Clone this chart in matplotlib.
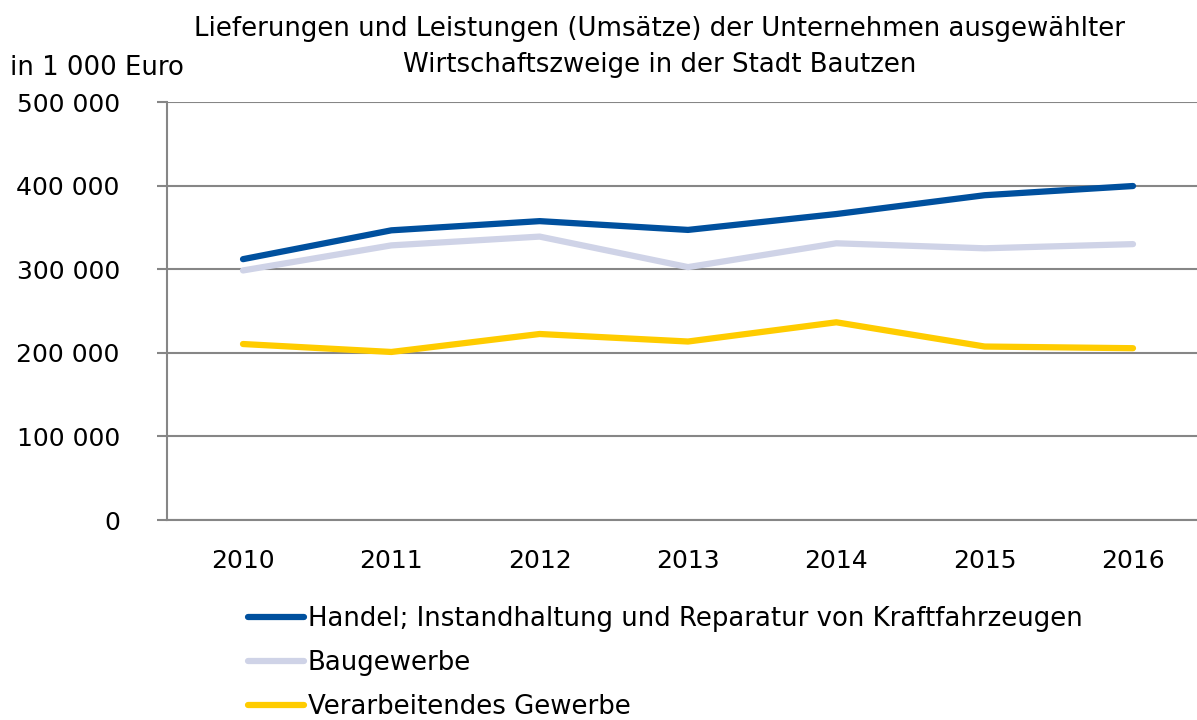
import matplotlib
matplotlib.use('Agg')
import matplotlib.pyplot as plt
from matplotlib.ticker import FuncFormatter

years = ['2010', '2011', '2012', '2013', '2014', '2015', '2016']
handel = [312000, 346500, 357500, 347000, 366000, 388500, 399500]
baugewerbe = [298500, 328500, 339000, 302500, 331000, 325000, 330000]
verarbeitend = [210500, 201000, 222500, 213500, 236500, 207500, 205500]

labels = ['Handel; Instandhaltung und Reparatur von Kraftfahrzeugen',
          'Baugewerbe',
          'Verarbeitendes Gewerbe']
colors = ['#00509E', '#CFD3E7', '#FFCC00']

plt.rcParams['font.family'] = ['DejaVu Sans']
FS = 18
FS_BIG = 18.7

W, H = 1197, 720
fig = plt.figure(figsize=(W / 100, H / 100), dpi=100)
ax = fig.add_axes([167 / W, 1 - 520 / H, (W - 167) / W, (520 - 102) / H])

x = list(range(len(years)))
lines = []
for vals, col, lab in zip([handel, baugewerbe, verarbeitend], colors, labels):
    ln, = ax.plot(x, vals, color=col, lw=4.5, solid_capstyle='round', label=lab, zorder=3)
    lines.append(ln)

# category spacing: 2010 at px 243, 2016 at px 1133
step = (1133 - 243) / 6
ax.set_xlim(-(243 - 167) / step, 6 + (W - 1133) / step)
ax.set_ylim(0, 500000)
ax.set_xticks(x)
ax.set_xticklabels(years, fontsize=FS)
ax.set_yticks(range(0, 500001, 100000))
ax.yaxis.set_major_formatter(FuncFormatter(lambda v, p: f'{int(v):,}'.replace(',', ' ')))
ax.tick_params(axis='y', length=7, width=1.5, color='#868686', labelsize=FS, pad=27)
ax.tick_params(axis='x', length=0, pad=21)
ax.grid(axis='y', color='#868686', lw=1.5)
ax.set_axisbelow(True)
for s in ['top', 'right']:
    ax.spines[s].set_visible(False)
for s in ['left', 'bottom']:
    ax.spines[s].set_color('#868686')
    ax.spines[s].set_linewidth(1.5)

fig.text(660 / W, 1 - 47 / H, 'Lieferungen und Leistungen (Umsätze) der Unternehmen ausgewählter\nWirtschaftszweige in der Stadt Bautzen',
         ha='center', va='center', fontsize=FS_BIG, linespacing=1.5)
fig.text(10 / W, 1 - 68 / H, 'in 1 000 Euro', ha='left', va='center', fontsize=FS_BIG)

fig.legend(lines, labels, loc='upper left', bbox_to_anchor=(248 / W, 1 - 606 / H),
           frameon=False, fontsize=FS_BIG, handlelength=2.15, handletextpad=0.15,
           labelspacing=0.7, borderpad=0, borderaxespad=0)

fig.savefig('out.png', dpi=100)
